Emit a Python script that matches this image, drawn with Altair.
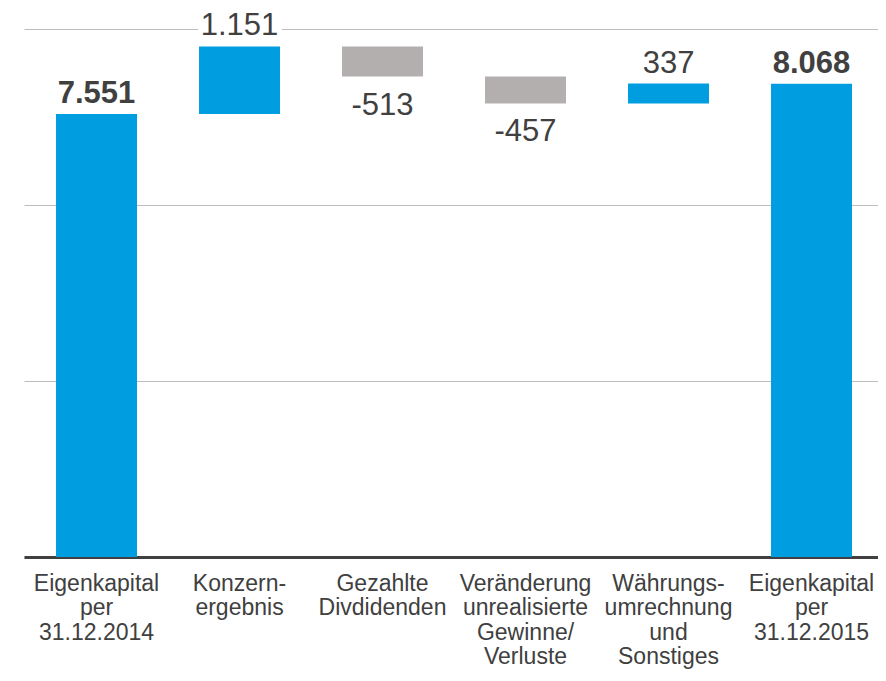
import altair as alt
import pandas as pd

categories = [
    "Eigenkapital\nper\n31.12.2014",
    "Konzern-\nergebnis",
    "Gezahlte\nDivdidenden",
    "Veränderung\nunrealisierte\nGewinne/\nVerluste",
    "Währungs-\numrechnung\nund\nSonstiges",
    "Eigenkapital\nper\n31.12.2015",
]
values = [7551, 1151, -513, -457, 337, 8068]
kinds = ["total", "delta", "delta", "delta", "delta", "total"]
labels = ["7.551", "1.151", "-513", "-457", "337", "8.068"]

rows = []
running = 0
for cat, val, kind, lab in zip(categories, values, kinds, labels):
    if kind == "total":
        start, end = 0, val
        running = val
    else:
        start, end = running, running + val
        running = running + val
    rows.append({
        "cat": cat,
        "start": start,
        "end": end,
        "top": max(start, end),
        "bottom": min(start, end),
        "label": lab,
        "kind": kind,
        "sign": "neg" if val < 0 else "pos",
    })
df = pd.DataFrame(rows)

TEXT = "#404040"
FONT = "Liberation Sans"

x = alt.X(
    "cat:N",
    sort=categories,
    scale=alt.Scale(paddingInner=0.4336, paddingOuter=0.2028, align=0.552),
    axis=alt.Axis(
        title=None,
        labelAngle=0,
        labelExpr="split(datum.label, '\\n')",
        labelFont=FONT,
        labelFontSize=23,
        labelColor=TEXT,
        labelLineHeight=24.5,
        labelPadding=15,
        ticks=False,
        tickSize=0,
        domainColor=TEXT,
        domainWidth=3,
        labelOverlap=False,
        labelBound=False,
        labelLimit=300,
        grid=False,
    ),
)

yaxis = alt.Axis(
    title=None,
    labels=False,
    ticks=False,
    domain=False,
    values=[0, 3000, 6000, 9000],
    grid=True,
    gridColor="#BFBCBC",
    gridWidth=1,
)
yscale = alt.Scale(domain=[0, 9000], nice=False)

base = alt.Chart(df)

bars = base.mark_bar().encode(
    x=x,
    y=alt.Y("start:Q", scale=yscale, axis=yaxis),
    y2="end:Q",
    color=alt.Color(
        "sign:N",
        scale=alt.Scale(domain=["pos", "neg"], range=["#009EE0", "#B3AFAF"]),
        legend=None,
    ),
)

above = base.transform_filter("datum.sign == 'pos'")
below = base.transform_filter("datum.sign == 'neg'")

knockout = above.mark_text(
    font=FONT, fontSize=31, baseline="alphabetic", dy=-11,
    fill="white", stroke="white", strokeWidth=12, strokeJoin="round",
).encode(x=x, y=alt.Y("top:Q", scale=yscale, axis=yaxis), text="label:N")

above_delta = above.transform_filter("datum.kind == 'delta'").mark_text(
    font=FONT, fontSize=31, baseline="alphabetic", dy=-11, color=TEXT,
).encode(x=x, y=alt.Y("top:Q", scale=yscale, axis=yaxis), text="label:N")

above_total = above.transform_filter("datum.kind == 'total'").mark_text(
    font=FONT, fontSize=31, fontWeight="bold", baseline="alphabetic", dy=-11, color=TEXT,
).encode(x=x, y=alt.Y("top:Q", scale=yscale, axis=yaxis), text="label:N")

below_text = below.mark_text(
    font=FONT, fontSize=31, baseline="alphabetic", dy=38, color=TEXT,
).encode(x=x, y=alt.Y("bottom:Q", scale=yscale, axis=yaxis), text="label:N")

chart = (
    alt.layer(knockout, bars, above_delta, above_total, below_text)
    .properties(
        width=854,
        height=528,
        autosize=alt.AutoSizeParams(type="none"),
        padding={"left": 16, "top": 21, "right": 0, "bottom": 115},
        background="white",
    )
    .configure_view(stroke=None)
)

chart.save("out.html", embed_options={"renderer": "svg", "actions": False})
